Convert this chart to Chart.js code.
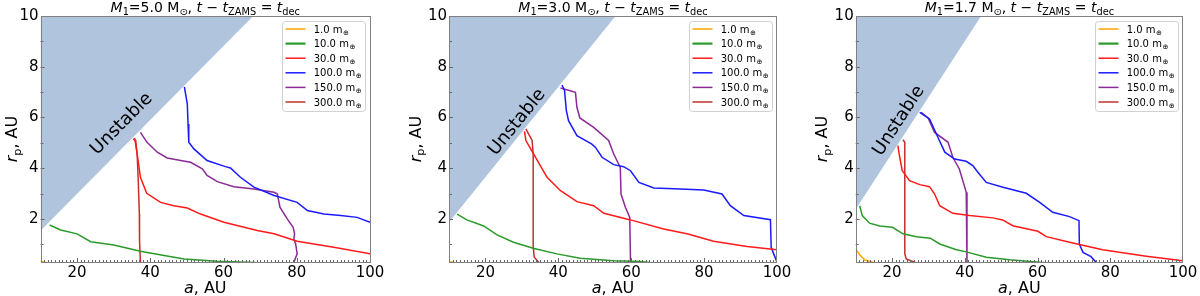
<!DOCTYPE html>
<html lang="en">
<head>
  <meta charset="UTF-8" />
  <title>Planet survival after decoupling</title>
  <script src="https://cdn.jsdelivr.net/npm/chart.js"></script>
  <style>
    body { margin: 0; background: #fff; width: 1200px; height: 296px; overflow: hidden; position: relative; }
    .panel { position: absolute; top: 0; width: 400px; height: 296px; }
  </style>
</head>
<body>
  <div class="panel" style="left:0px"><canvas id="c5" width="400" height="296"></canvas></div>
  <div class="panel" style="left:400px"><canvas id="c3" width="400" height="296"></canvas></div>
  <div class="panel" style="left:800px"><canvas id="c17" width="400" height="296"></canvas></div>

  <script>
    // axes
    const xTicks = [20, 40, 60, 80, 100];
    const yTicks = [2, 4, 6, 8, 10];
    const masses = ['1.0', '10.0', '30.0', '100.0', '150.0', '300.0'];
    const colors = ['#ffa500', '#2a9a2a', '#ff1a1a', '#1a1aff', '#8a2a94', '#c0302c'];

    // M1 = 5.0 Msun  ([a, r_p] pairs, AU)
    const p5_m1 = [[10, 0.33], [11.5, 0.28]];
    const p5_m10 = [[12.5, 1.76], [15.5, 1.56], [20, 1.41], [23.7, 1.10], [30, 0.97], [37.3, 0.72], [43, 0.58], [49.2, 0.42], [58.3, 0.33], [68.3, 0.28], [72, 0.25]];
    const p5_m30 = [[35.7, 5.19], [36.4, 4.56], [37.3, 3.64], [39, 3.01], [42.8, 2.65], [46.4, 2.52], [50.1, 2.43], [53.7, 2.19], [60.1, 1.87], [69.2, 1.54], [73.8, 1.41], [80.1, 1.12], [90.1, 0.88], [100, 0.62]];
    const p5_m100 = [[49.3, 7.21], [50.1, 6.53], [50.3, 5.74], [50.5, 5.02], [51.9, 4.76], [55.5, 4.30], [60.5, 4.06], [61.9, 4.01], [64.6, 3.64], [68.3, 3.25], [73.8, 2.92], [80.1, 2.65], [82.9, 2.33], [87.4, 2.19], [92, 2.13], [96.5, 2.06], [100, 1.87]];
    const p5_m150 = [[37.3, 5.41], [39.1, 5.02], [41.9, 4.63], [44.6, 4.40], [48.3, 4.30], [51, 4.23], [54.2, 3.97], [55.5, 3.71], [58.3, 3.47], [62.8, 3.27], [68.3, 3.18], [73.8, 3.05], [74.7, 2.98], [75.4, 2.46], [77.4, 2.0], [79, 1.67], [79.4, 1.41], [79.2, 1.2], [79.7, 1.01], [80.1, 0.62], [79.2, 0.29], [79.3, 0.2]];
    const p5_m300 = [[35.3, 5.15], [36, 5.09], [36.4, 4.56], [36.7, 3.51], [37, 2.19], [37.05, 1.14], [37.3, 0.29], [37.3, 0.2]];
    const unstable5 = [[10, 1.53], [68.1, 10]];

    // M1 = 3.0 Msun
    const p3_m1 = [[10, 0.32], [11.5, 0.28]];
    const p3_m10 = [[12.2, 2.19], [14.9, 1.96], [19.5, 1.72], [23.2, 1.37], [27.7, 1.08], [33.1, 0.84], [39.6, 0.62], [46, 0.45], [55.2, 0.35], [62.5, 0.32], [67.1, 0.25]];
    const p3_m30 = [[30.7, 5.45], [31.1, 5.09], [33.2, 4.56], [36.9, 3.64], [40.6, 3.11], [45.1, 2.68], [49.7, 2.52], [52.5, 2.22], [59.8, 1.96], [68.9, 1.60], [75.3, 1.41], [82.6, 1.12], [91.8, 0.91], [100, 0.78]];
    const p3_m100 = [[41, 7.28], [41.7, 7.06], [42.2, 6.27], [42.8, 5.87], [45.1, 5.28], [49.2, 4.95], [50.2, 4.82], [52, 4.43], [55.2, 4.14], [57.9, 4.06], [59.8, 3.90], [62.1, 3.44], [66.2, 3.22], [73.5, 3.18], [79.9, 3.14], [84.9, 2.98], [87.2, 2.52], [90.9, 2.13], [98.2, 1.97], [98.4, 0.88], [99.1, 0.62], [100, 0.29]];
    const p3_m150 = [[40.6, 7.16], [44.7, 6.99], [45.1, 6.40], [45.9, 5.98], [49.7, 5.61], [53.8, 5.09], [55.2, 4.56], [57, 4.03], [57.2, 2.98], [58.4, 2.46], [59.6, 2.06], [59.8, 0.29], [59.8, 0.2]];
    const p3_m300 = [[31.1, 5.55], [32.8, 5.09], [33.1, 4.56], [33.1, 0.88], [33.4, 0.49], [34.6, 0.29], [35, 0.2]];
    const unstable3 = [[10, 1.87], [55.7, 10]];

    // M1 = 1.7 Msun
    const p17_m1 = [[10, 0.81], [11.1, 0.59], [12.5, 0.38], [14.8, 0.29], [16.1, 0.25]];
    const p17_m10 = [[11.1, 2.52], [11.8, 2.13], [13.8, 1.83], [16.6, 1.72], [20.1, 1.67], [23, 1.41], [26.7, 1.30], [30.5, 1.24], [33.1, 1.01], [37.7, 0.78], [40.4, 0.70], [45.9, 0.49], [52.3, 0.39], [60.5, 0.29], [64.2, 0.25]];
    const p17_m30 = [[21.6, 4.89], [22.1, 4.43], [22.8, 3.90], [24.8, 3.51], [27.6, 3.35], [30.3, 3.27], [31.7, 2.98], [33.1, 2.52], [36.7, 2.22], [41.3, 2.13], [47.7, 2.04], [50.4, 1.96], [53.2, 1.73], [60.1, 1.51], [62.4, 1.30], [68.8, 1.08], [77.9, 0.78], [89.9, 0.53], [100, 0.35]];
    const p17_m100 = [[27.6, 6.20], [30.3, 5.94], [32.6, 5.22], [34.5, 4.63], [37.2, 4.36], [40.4, 4.27], [42.2, 4.10], [43.6, 3.84], [45.9, 3.44], [50.5, 3.25], [56.9, 3.01], [60.5, 2.66], [64.2, 2.26], [68.8, 2.09], [71.4, 1.93], [71.5, 1.01], [72.5, 0.68], [74.7, 0.51], [76.1, 0.29], [76.5, 0.2]];
    const p17_m150 = [[28, 6.20], [29.9, 5.98], [31.7, 5.41], [35.4, 5.02], [36.7, 4.43], [38.5, 3.97], [40.4, 3.05], [40.6, 2.19], [40.6, 0.2]];
    const p17_m300 = [[23, 5.12], [23.5, 5.02], [23.5, 0.62], [23.9, 0.42], [26.2, 0.29], [27, 0.2]];
    const unstable17 = [[10, 2.38], [44.5, 10]];

    const panels = [
      { id: 'c5', mass: '5.0', series: [p5_m1, p5_m10, p5_m30, p5_m100, p5_m150, p5_m300], unstable: unstable5, label: [32.2, 5.74], left: 40.5, right: 30, yTitleX: 11.7 },
      { id: 'c3', mass: '3.0', series: [p3_m1, p3_m10, p3_m30, p3_m100, p3_m150, p3_m300], unstable: unstable3, label: [28.7, 5.81], left: 49, right: 23, yTitleX: 15 },
      { id: 'c17', mass: '1.7', series: [p17_m1, p17_m10, p17_m30, p17_m100, p17_m150, p17_m300], unstable: unstable17, label: [21.9, 5.87], left: 55.7, right: 17, yTitleX: 21.7 }
    ];

    const FONT = '"DejaVu Sans", sans-serif';

    function runFont(r, size) {
      return (r.i ? 'italic ' : '') + (r.sub ? size * 0.7 : size) + 'px ' + FONT;
    }

    function drawRich(ctx, runs, x, y, size) {
      let w = 0;
      runs.forEach(r => { ctx.font = runFont(r, size); w += ctx.measureText(r.t).width; });
      let cx = x - w / 2;
      ctx.textAlign = 'left';
      ctx.textBaseline = 'alphabetic';
      runs.forEach(r => {
        ctx.font = runFont(r, size);
        ctx.fillText(r.t, cx, y + (r.sub ? size * 0.22 : 0));
        cx += ctx.measureText(r.t).width;
      });
    }

    const decor = {
      id: 'decor',
      afterDraw(chart) {
        const ctx = chart.ctx;
        const area = chart.chartArea;
        const xs = chart.scales.x, ys = chart.scales.y;
        const p = chart.options.plugins.decor;
        ctx.save();

        // "Unstable" label along the boundary
        const u = p.unstable;
        const ang = Math.atan2(ys.getPixelForValue(u[1][1]) - ys.getPixelForValue(u[0][1]),
                               xs.getPixelForValue(u[1][0]) - xs.getPixelForValue(u[0][0]));
        ctx.translate(xs.getPixelForValue(p.label[0]), ys.getPixelForValue(p.label[1]));
        ctx.rotate(ang);
        ctx.fillStyle = '#000';
        ctx.font = '18px ' + FONT;
        ctx.textAlign = 'center';
        ctx.textBaseline = 'middle';
        ctx.fillText('Unstable', 0, 0);
        ctx.restore();
        ctx.save();

        // inward ticks
        ctx.strokeStyle = '#666';
        ctx.lineWidth = 1;
        ctx.beginPath();
        for (let v = 11; v < 100; v++) {
          const px = Math.round(xs.getPixelForValue(v)) + 0.5;
          const len = xTicks.includes(v) ? 4 : 2;
          ctx.moveTo(px, area.bottom); ctx.lineTo(px, area.bottom - len);
        }
        for (let v = 1; v < 10; v++) {
          const py = Math.round(ys.getPixelForValue(v)) + 0.5;
          const len = yTicks.includes(v) ? 4 : 3;
          ctx.moveTo(area.left, py); ctx.lineTo(area.left + len, py);
        }
        ctx.stroke();

        // frame
        ctx.strokeStyle = '#808080';
        ctx.strokeRect(Math.round(area.left) + 0.5, Math.round(area.top) + 0.5,
                       Math.round(area.right - area.left) - 1, Math.round(area.bottom - area.top));

        // legend
        const bw = 83, bh = 90;
        const bx = area.right - 5 - bw, by = area.top + 5;
        ctx.beginPath();
        ctx.roundRect(bx + 0.5, by + 0.5, bw, bh, 3);
        ctx.fillStyle = 'rgba(255,255,255,0.85)';
        ctx.fill();
        ctx.strokeStyle = '#d0d0d0';
        ctx.stroke();
        masses.forEach((m, i) => {
          const ry = by + 8 + i * 14.6;
          ctx.strokeStyle = colors[i];
          ctx.lineWidth = i === 1 ? 2.2 : 1.5;
          ctx.beginPath();
          ctx.moveTo(bx + 3.5, ry); ctx.lineTo(bx + 23.5, ry);
          ctx.stroke();
          ctx.fillStyle = '#000';
          ctx.save();
          ctx.translate(bx + 31.7, 0);
          ctx.textAlign = 'left';
          ctx.font = '10px ' + FONT;
          const w = ctx.measureText(m + ' m').width;
          ctx.fillText(m + ' m', 0, ry + 3.6);
          ctx.font = '7px ' + FONT;
          ctx.fillText('\u2295', w + 0.5, ry + 5.6);
          ctx.restore();
        });

        // titles
        ctx.fillStyle = '#000';
        const cxm = (area.left + area.right) / 2;
        drawRich(ctx, [
          { t: 'M', i: true }, { t: '1', sub: true }, { t: '=' + p.mass + ' M' }, { t: '\u2299', sub: true },
          { t: ', ' }, { t: 't', i: true }, { t: ' \u2212 ' }, { t: 't', i: true }, { t: 'ZAMS', sub: true },
          { t: ' = ' }, { t: 't', i: true }, { t: 'dec', sub: true }
        ], cxm, 12, 14);
        drawRich(ctx, [{ t: 'a', i: true }, { t: ', AU' }], cxm, 292.5, 16);
        ctx.save();
        ctx.translate(p.yTitleX, (area.top + area.bottom) / 2);
        ctx.rotate(-Math.PI / 2);
        drawRich(ctx, [{ t: 'r', i: true }, { t: 'p', sub: true }, { t: ', AU' }], 0, 5.5, 16);
        ctx.restore();
        ctx.restore();
      }
    };

    panels.forEach(pn => {
      const datasets = pn.series.map((s, i) => ({
        label: masses[i] + ' m',
        data: s.map(([a, r]) => ({ x: a, y: r })),
        borderColor: colors[i],
        borderWidth: 1.5,
        pointRadius: 0,
        tension: 0,
        fill: false,
        order: 1
      }));
      datasets.push({
        label: 'Unstable',
        data: pn.unstable.map(([a, r]) => ({ x: a, y: r })),
        borderWidth: 0,
        borderColor: 'rgba(0,0,0,0)',
        backgroundColor: '#b0c4de',
        pointRadius: 0,
        fill: 'end',
        order: 10
      });

      new Chart(document.getElementById(pn.id), {
        type: 'line',
        data: { datasets },
        options: {
          responsive: false,
          animation: false,
          devicePixelRatio: 1,
          layout: { padding: { left: 0, right: pn.right, top: 16, bottom: 0 } },
          plugins: {
            legend: { display: false },
            tooltip: { enabled: false },
            decor: { mass: pn.mass, unstable: pn.unstable, label: pn.label, yTitleX: pn.yTitleX }
          },
          scales: {
            x: {
              type: 'linear',
              min: 10,
              max: 100,
              afterBuildTicks: s => { s.ticks = xTicks.map(v => ({ value: v })); },
              afterFit: s => { s.height = 34; },
              grid: { display: false, drawTicks: false },
              border: { display: false },
              ticks: { color: '#000', padding: 2, font: { family: 'DejaVu Sans', size: 15 }, maxRotation: 0 }
            },
            y: {
              type: 'linear',
              min: 0.3,
              max: 10,
              afterBuildTicks: s => { s.ticks = yTicks.map(v => ({ value: v })); },
              afterFit: s => { s.width = pn.left; },
              grid: { display: false, drawTicks: false },
              border: { display: false },
              ticks: { color: '#000', padding: 2, font: { family: 'DejaVu Sans', size: 15 } }
            }
          }
        },
        plugins: [decor]
      });
    });
  </script>
</body>
</html>
